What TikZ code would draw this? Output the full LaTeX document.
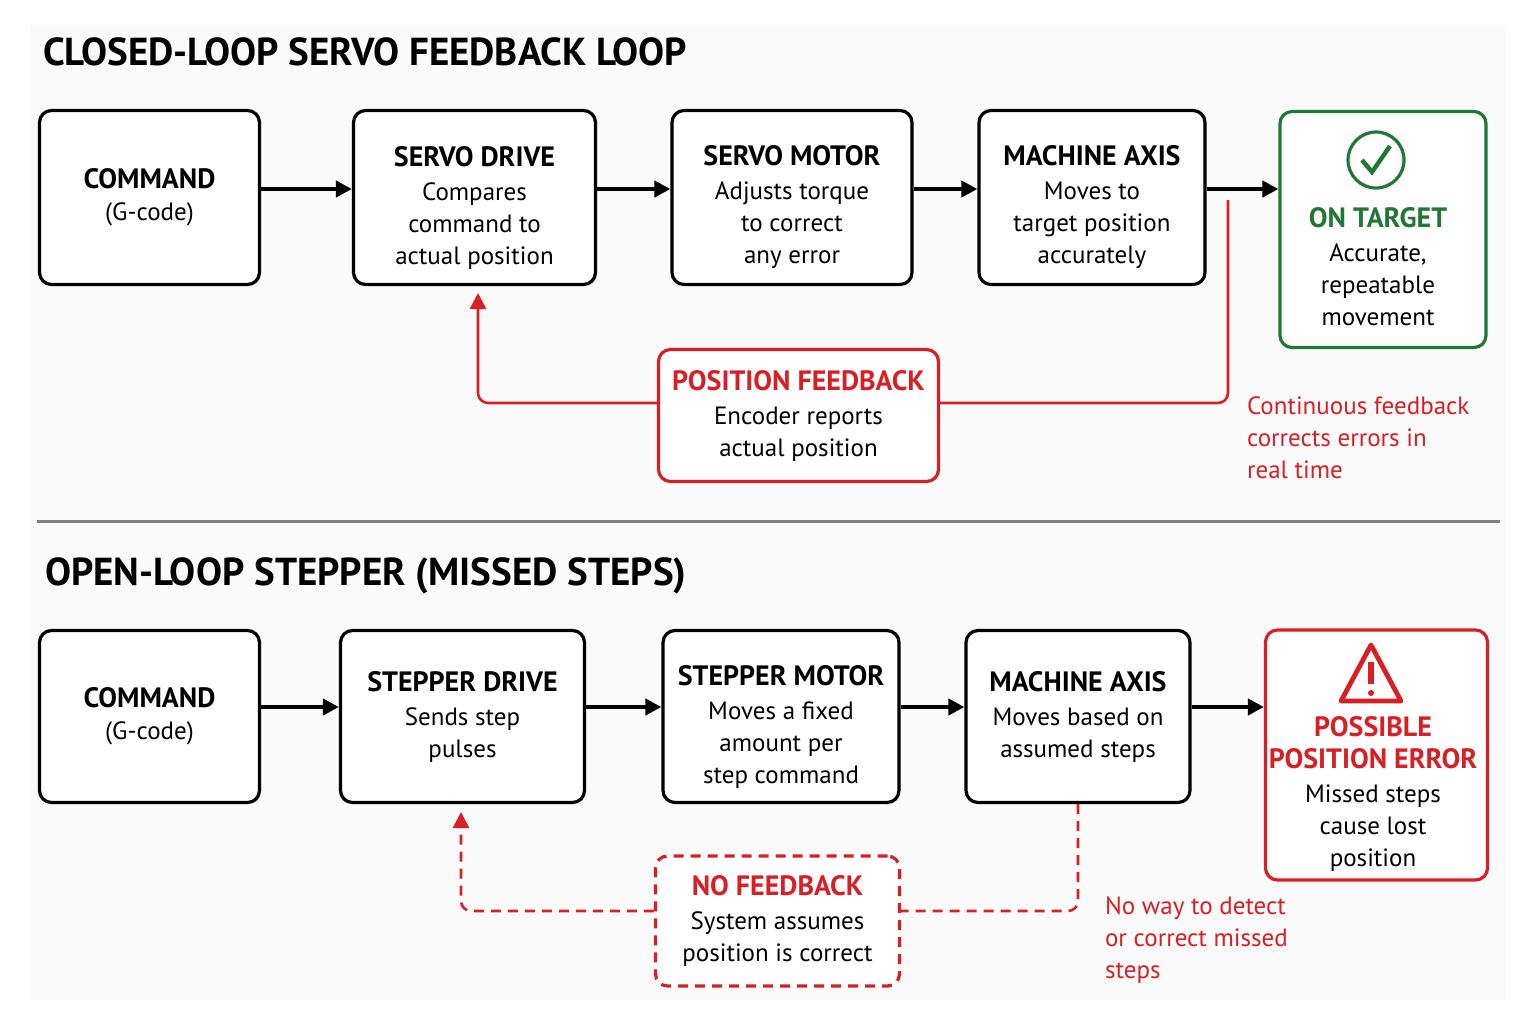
\documentclass[tikz,border=0pt]{standalone}
\usepackage{fontspec}
\setmainfont{PT Sans}
\usetikzlibrary{arrows.meta}
\definecolor{fbred}{RGB}{214,32,38}
\definecolor{okgreen}{RGB}{32,120,52}
\tikzset{
	box/.style={draw=black, line width=1.6pt, rounded corners=6pt, fill=white, align=center, inner sep=0pt, font=\bd},
	redbox/.style={box, draw=fbred},
	flow/.style={-{Triangle[length=8pt,width=8pt]}, line width=2pt},
	fb/.style={-{Triangle[length=8pt,width=8pt]}, line width=1.3pt, draw=fbred, rounded corners=5pt},
	fbdash/.style={dash pattern=on 5pt off 3.5pt},
	txt/.style={font=\bd},
}
\newcommand{\hd}{\bfseries\fontsize{14}{18}\selectfont}
\newcommand{\bd}{\fontsize{12.5}{16}\selectfont}
\newcommand{\st}{\rule{0pt}{20pt}}
\begin{document}
\begin{tikzpicture}[x=0.5pt,y=-0.5pt]
	\useasboundingbox (0,0) rectangle (1536,1024);
	\fill[black!2] (30,25) rectangle (1505,1000);

	%closed loop
	\node[anchor=west, font=\bfseries\fontsize{19.5}{24}\selectfont] (title1) at (36,52) {CLOSED-LOOP SERVO FEEDBACK LOOP};
	\node[box, minimum width=110pt, minimum height=87pt] (cmd1) at (149.5,197.5) {\hd COMMAND\\(G-code)};
	\node[box, minimum width=121pt, minimum height=87pt] (drv1) at (474.5,197.5) {\st\hd SERVO DRIVE\\[1pt]Compares\\command to\\actual position};
	\node[box, minimum width=120pt, minimum height=87pt] (mot1) at (792,197.5) {\st\hd SERVO MOTOR\\[1pt]Adjusts torque\\to correct\\any error};
	\node[box, minimum width=113pt, minimum height=87pt] (axis1) at (1092,197.5) {\st\hd MACHINE AXIS\\[1pt]Moves to\\target position\\accurately};
	\node[box, draw=okgreen, minimum width=103pt, minimum height=118pt] (ok) at (1383,229.5) {};
	\draw[okgreen, line width=1.6pt] (1376,160) circle (28);
	\draw[okgreen, line width=2.2pt] (1362,160) -- (1372,172) -- (1390,146);
	\node[align=center, txt] (oktxt) at (1378,267) {\hd\color{okgreen}ON TARGET\\[1pt]Accurate,\\repeatable\\movement};
	\node[redbox, minimum width=140pt, minimum height=66pt] (pos) at (798.5,415.5) {\hd\color{fbred}POSITION FEEDBACK\\[1pt]Encoder reports\\actual position};
	\draw[flow] (cmd1.east |- 0,189) -- (drv1.west |- 0,189);
	\draw[flow] (drv1.east |- 0,189) -- (mot1.west |- 0,189);
	\draw[flow] (mot1.east |- 0,189) -- (axis1.west |- 0,189);
	\draw[flow] (axis1.east |- 0,189) -- (ok.west |- 0,189);
	\coordinate (tap1) at (1228,200);
	\draw[fb, -] (tap1) |- (pos.east |- 0,403);
	\draw[fb] (pos.west |- 0,403) -| (478,293);
	\node[anchor=north west, align=left, text=fbred, txt] (note1) at (1240,390) {Continuous feedback\\corrects errors in\\real time};

	\draw[black!50, line width=1.5pt] (37,521) -- (1500,521);

	%open loop
	\node[anchor=west, font=\bfseries\fontsize{19.5}{24}\selectfont] (title2) at (38,576) {OPEN-LOOP STEPPER (MISSED STEPS)};
	\node[box, minimum width=110pt, minimum height=86pt] (cmd2) at (149.5,716.5) {\hd COMMAND\\(G-code)};
	\node[box, minimum width=122pt, minimum height=86pt] (drv2) at (462.5,716.5) {\hd STEPPER DRIVE\\[1pt]Sends step\\pulses};
	\node[box, minimum width=118pt, minimum height=86pt] (mot2) at (781,716.5) {\st\hd STEPPER MOTOR\\[1pt]Moves a fixed\\amount per\\step command};
	\node[box, minimum width=112pt, minimum height=86pt] (axis2) at (1078,716.5) {\hd MACHINE AXIS\\[1pt]Moves based on\\assumed steps};
	\node[redbox, minimum width=111pt, minimum height=125pt] (err) at (1376.5,755) {};
	\draw[fbred, line width=2.4pt, line join=round] (1371,645) -- (1401,701) -- (1341,701) -- cycle;
	\draw[fbred, line width=3pt] (1371,662) -- (1371,684);
	\fill[fbred] (1371,693) circle (3);
	\node[align=center, txt] (errtxt) at (1373,794) {\hd\color{fbred}POSSIBLE\\\hd\color{fbred}POSITION ERROR\\[1pt]Missed steps\\cause lost\\position};
	\node[redbox, fbdash, minimum width=122pt, minimum height=65pt] (nofb) at (777.5,921) {\hd\color{fbred}NO FEEDBACK\\[1pt]System assumes\\position is correct};
	\draw[flow] (cmd2.east |- 0,707) -- (drv2.west |- 0,707);
	\draw[flow] (drv2.east |- 0,707) -- (mot2.west |- 0,707);
	\draw[flow] (mot2.east |- 0,707) -- (axis2.west |- 0,707);
	\draw[flow] (axis2.east |- 0,707) -- (err.west |- 0,707);
	\draw[fb, -, fbdash] (axis2.south) |- (nofb.east |- 0,911);
	\draw[fb, fbdash] (nofb.west |- 0,911) -| (461,812);
	\node[anchor=north west, align=left, text=fbred, txt] (note2) at (1098,890) {No way to detect\\or correct missed\\steps};
\end{tikzpicture}
\end{document}
